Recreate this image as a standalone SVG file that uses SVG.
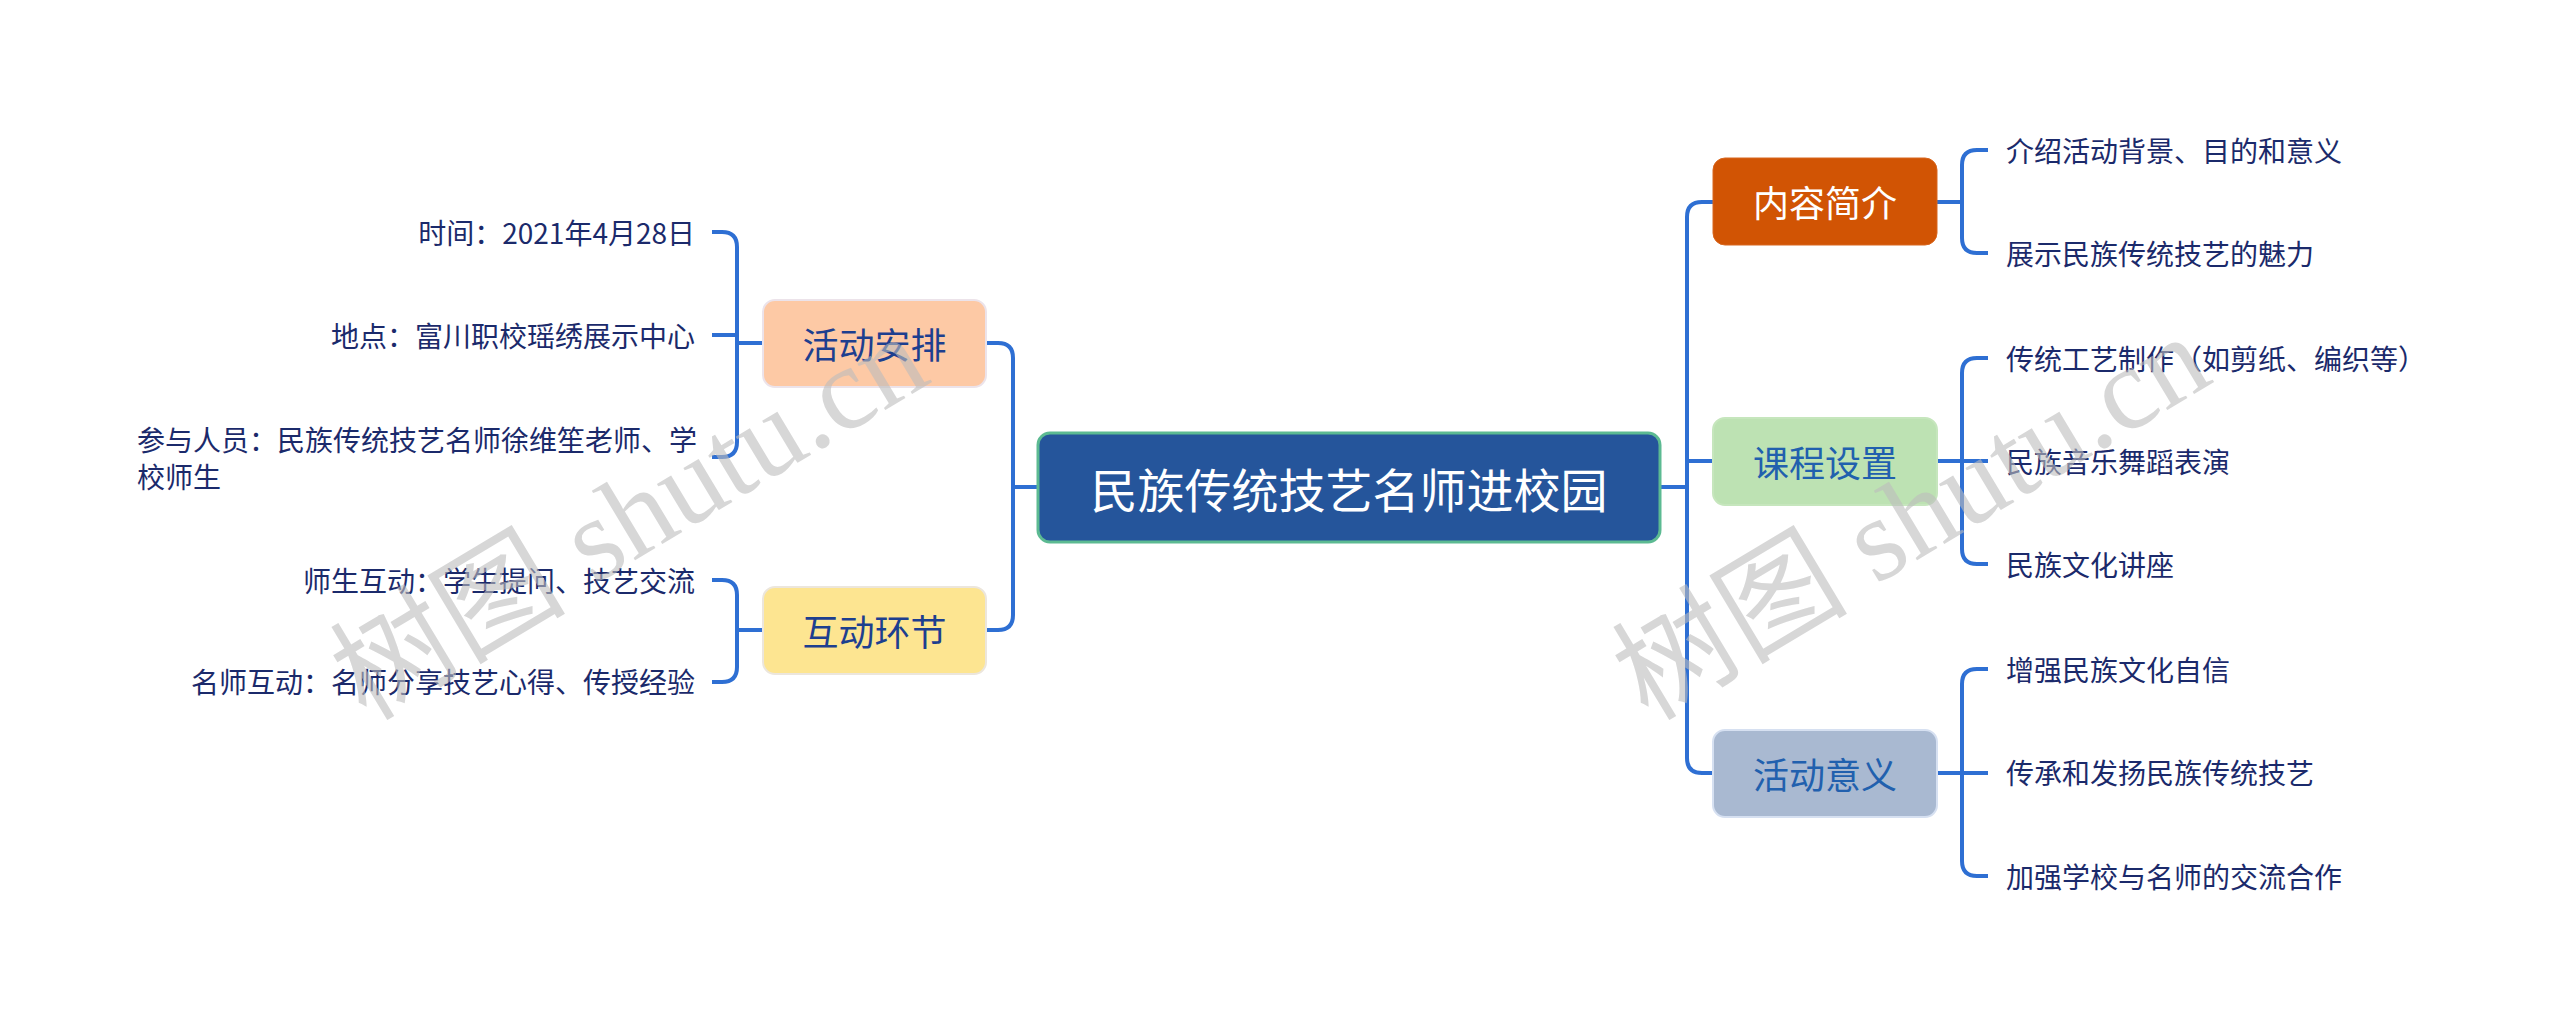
<svg xmlns="http://www.w3.org/2000/svg" width="2560" height="1027" viewBox="0 0 2560 1027">
<style>
.bg{fill:#ffffff}
.conn{fill:none;stroke:#2e6fd3;stroke-width:4;stroke-linecap:butt;stroke-linejoin:round}
.t{font-family:"Microsoft YaHei","Noto Sans CJK SC","Noto Sans",sans-serif;dominant-baseline:central}
.child{font-size:28px;fill:#1b2a6b}
.main{font-size:36px;text-anchor:middle}
.root{font-size:47px;fill:#ffffff;text-anchor:middle}
.wm{font-family:"Liberation Serif","Noto Sans CJK SC",serif;font-size:118px;fill:#bdbdbd;opacity:0.6}
</style>
<rect class="bg" x="0" y="0" width="2560" height="1027"/>

<g id="connectors">
  <path class="conn" d="M1038,487 H1013"/>
  <path class="conn" d="M986,343 H998 Q1013,343 1013,358 V615 Q1013,630 998,630 H986"/>
  <path class="conn" d="M712,232 H722 Q737,232 737,247 V442 Q737,457 722,457 H712"/>
  <path class="conn" d="M712,335 H737"/>
  <path class="conn" d="M737,343 H763"/>
  <path class="conn" d="M712,580 H722 Q737,580 737,595 V667 Q737,682 722,682 H712"/>
  <path class="conn" d="M737,630 H763"/>
  <path class="conn" d="M1660,487 H1687"/>
  <path class="conn" d="M1713,202 H1702 Q1687,202 1687,217 V758 Q1687,773 1702,773 H1713"/>
  <path class="conn" d="M1687,461 H1713"/>
  <path class="conn" d="M1988,150 H1977 Q1962,150 1962,165 V238 Q1962,253 1977,253 H1988"/>
  <path class="conn" d="M1937,202 H1962"/>
  <path class="conn" d="M1988,358 H1977 Q1962,358 1962,373 V549 Q1962,564 1977,564 H1988"/>
  <path class="conn" d="M1937,461 H1988"/>
  <path class="conn" d="M1988,669 H1977 Q1962,669 1962,684 V861 Q1962,876 1977,876 H1988"/>
  <path class="conn" d="M1937,773 H1988"/>
</g>

<g id="root">
  <rect x="1038" y="433" width="622" height="109" rx="12" fill="#25559b" stroke="#5cba92" stroke-width="3"/>
  <text class="t root" x="1349" y="487">民族传统技艺名师进校园</text>
</g>

<g id="n-huodonganpai">
  <rect x="763" y="300" width="223" height="87" rx="12" fill="#fdc9a5" stroke="#ece3ea" stroke-width="2"/>
  <text class="t main" x="874.5" y="343" fill="#1d3f8f">活动安排</text>
</g>
<g id="n-hudonghuanjie">
  <rect x="763" y="587" width="223" height="87" rx="12" fill="#fde591" stroke="#ece6dc" stroke-width="2"/>
  <text class="t main" x="874.5" y="630" fill="#1d3f8f">互动环节</text>
</g>
<g id="n-neirongjianjie">
  <rect x="1713" y="158" width="224" height="87" rx="12" fill="#d15404" stroke="#d8661e" stroke-width="1"/>
  <text class="t main" x="1825" y="201" fill="#ffffff">内容简介</text>
</g>
<g id="n-kechengshezhi">
  <rect x="1713" y="418" width="224" height="87" rx="12" fill="#bde2b3" stroke="#c6e6bd" stroke-width="2"/>
  <text class="t main" x="1825" y="461" fill="#2160ae">课程设置</text>
</g>
<g id="n-huodongyiyi">
  <rect x="1713" y="730" width="224" height="87" rx="12" fill="#a9b9d1" stroke="#d6e0f1" stroke-width="2"/>
  <text class="t main" x="1825" y="773" fill="#2160ae">活动意义</text>
</g>

<g id="c-shijian"><text class="t child" x="695" y="232" text-anchor="end">时间：2021年4月28日</text></g>
<g id="c-didian"><text class="t child" x="695" y="335" text-anchor="end">地点：富川职校瑶绣展示中心</text></g>
<g id="c-canyu">
  <text class="t child" x="137" y="439">参与人员：民族传统技艺名师徐维笙老师、学</text>
  <text class="t child" x="137" y="476">校师生</text>
</g>
<g id="c-shisheng"><text class="t child" x="695" y="580" text-anchor="end">师生互动：学生提问、技艺交流</text></g>
<g id="c-mingshi"><text class="t child" x="695" y="681" text-anchor="end">名师互动：名师分享技艺心得、传授经验</text></g>

<g id="c-jieshao"><text class="t child" x="2006" y="150">介绍活动背景、目的和意义</text></g>
<g id="c-zhanshi"><text class="t child" x="2006" y="253">展示民族传统技艺的魅力</text></g>
<g id="c-chuantong"><text class="t child" x="2006" y="358">传统工艺制作（如剪纸、编织等）</text></g>
<g id="c-yinyue"><text class="t child" x="2006" y="461">民族音乐舞蹈表演</text></g>
<g id="c-jiangzuo"><text class="t child" x="2006" y="564">民族文化讲座</text></g>
<g id="c-zengqiang"><text class="t child" x="2006" y="669">增强民族文化自信</text></g>
<g id="c-chuancheng"><text class="t child" x="2006" y="772">传承和发扬民族传统技艺</text></g>
<g id="c-jiaqiang"><text class="t child" x="2006" y="876">加强学校与名师的交流合作</text></g>

<g id="watermark">
  <text class="wm" transform="translate(366,722) rotate(-31)">树图 shutu.cn</text>
  <text class="wm" transform="translate(1648,722) rotate(-31)">树图 shutu.cn</text>
</g>
</svg>
